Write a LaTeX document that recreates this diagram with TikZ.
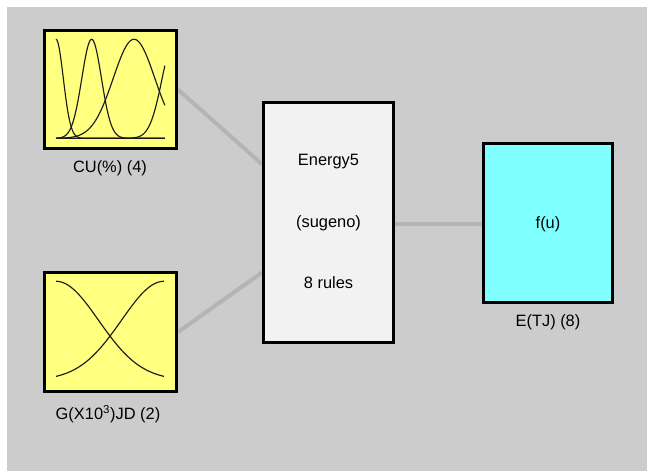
\documentclass[tikz,border=0pt]{standalone}
\usepackage{fontspec}
\setmainfont{Liberation Sans}
\usetikzlibrary{backgrounds,calc}
\definecolor{panel}{HTML}{CCCCCC}
\definecolor{wire}{HTML}{B4B4B4}
\definecolor{mfyellow}{HTML}{FFFF80}
\definecolor{outcyan}{HTML}{80FFFF}
\definecolor{fisfill}{HTML}{F2F2F2}
\definecolor{curve}{HTML}{1A1A1A}
\tikzset{
  fisbox/.style={draw=black, line width=2.25pt, rectangle, inner sep=0pt},
  lbl/.style={font=\fontsize{12.3}{14}\selectfont, inner sep=0pt},
  wireline/.style={draw=wire, line width=3pt},
  mf/.style={draw=curve, line width=0.85pt, samples=120, domain=0:1, smooth}
}
\begin{document}
\begin{tikzpicture}[x=0.75pt, y=-0.75pt]
\useasboundingbox (0,0) rectangle (647,471);
% boxes
\node[fisbox, fill=mfyellow, minimum width=99pt, minimum height=88.5pt] (cu) at (110.5,89.5) {};
\node[fisbox, fill=mfyellow, minimum width=99pt, minimum height=89.25pt] (gx) at (110.5,332) {};
\node[fisbox, fill=fisfill, minimum width=97.5pt, minimum height=180pt] (fis) at (328.5,222.5) {};
\node[fisbox, fill=outcyan, minimum width=96.75pt, minimum height=119.25pt] (out) at (548,223) {};
% texts
\node[lbl] (t1) at (328.5,162) {Energy5};
\node[lbl] (t2) at (328.5,223) {(sugeno)};
\node[lbl] (t3) at (328.5,283) {8 rules};
\node[lbl] (t4) at (548,224) {f(u)};
\node[lbl] (l1) at (110,168) {CU(\%) (4)};
\node[lbl] (l2) at (108,414) {G(X10\textsuperscript{3})JD (2)};
\node[lbl] (l3) at (548,322) {E(TJ) (8)};
% connectors and panel behind
\begin{scope}[on background layer]
\fill[panel] (7,7) rectangle (647,471);
\coordinate (in1) at ($(fis.north west)!0.26!(fis.south west)$);
\coordinate (in2) at ($(fis.north west)!0.706!(fis.south west)$);
\coordinate (outin) at ($(out.west)+(0,1)$);
\draw[wireline] (cu.east) -- (in1);
\draw[wireline] (gx.east) -- (in2);
\draw[wireline] (fis.east |- outin) -- (outin);
\end{scope}
% membership functions of CU(%)
\draw[mf] plot ({56+109*\x},{138.3-99*exp(-((\x)^2)/0.009)});
\draw[mf] plot ({56+109*\x},{138.3-99*exp(-((\x-0.327)^2)/0.0162)});
\draw[mf] plot ({56+109*\x},{138.3-99*exp(-((\x-0.716)^2)/0.0727)});
\draw[mf] plot ({56+109*\x},{138.3-99*exp(-((\x-1.089)^2)/0.0264)});
% membership functions of G
\draw[mf] plot ({56+108*\x},{380.3-99*exp(-((\x)^2)/0.31)});
\draw[mf] plot ({56+108*\x},{380.3-99*exp(-((\x-1)^2)/0.31)});
\end{tikzpicture}
\end{document}
